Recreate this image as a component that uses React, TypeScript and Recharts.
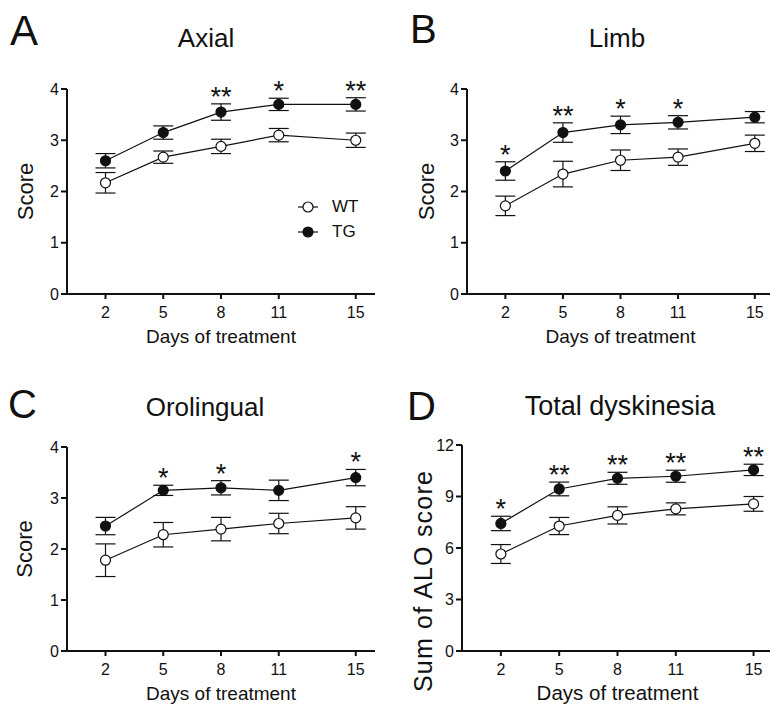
import { ErrorBar, LabelList, Legend, Line, LineChart, XAxis, YAxis } from "recharts";

// days of treatment (shared x values)
const days = [2, 5, 8, 11, 15];

// A - Axial
const axialWT = [2.17, 2.67, 2.88, 3.1, 3.0];
const axialWTErr = [0.2, 0.12, 0.14, 0.13, 0.14];
const axialTG = [2.6, 3.15, 3.55, 3.7, 3.7];
const axialTGErr = [0.14, 0.13, 0.16, 0.12, 0.13];
const axialSig = ["", "", "**", "*", "**"];

// B - Limb
const limbWT = [1.72, 2.34, 2.61, 2.67, 2.94];
const limbWTErr = [0.19, 0.25, 0.2, 0.16, 0.16];
const limbTG = [2.4, 3.15, 3.3, 3.35, 3.45];
const limbTGErr = [0.18, 0.19, 0.17, 0.13, 0.11];
const limbSig = ["*", "**", "*", "*", ""];

// C - Orolingual
const oroWT = [1.78, 2.28, 2.39, 2.5, 2.61];
const oroWTErr = [0.32, 0.24, 0.23, 0.2, 0.22];
const oroTG = [2.45, 3.15, 3.2, 3.15, 3.4];
const oroTGErr = [0.17, 0.1, 0.14, 0.2, 0.16];
const oroSig = ["", "*", "*", "", "*"];

// D - Total dyskinesia
const totalWT = [5.65, 7.28, 7.9, 8.28, 8.57];
const totalWTErr = [0.55, 0.5, 0.5, 0.35, 0.43];
const totalTG = [7.43, 9.44, 10.06, 10.18, 10.55];
const totalTGErr = [0.42, 0.4, 0.35, 0.35, 0.33];
const totalSig = ["*", "**", "**", "**", "**"];

const scoreTicks = [0, 1, 2, 3, 4];
const sumTicks = [0, 3, 6, 9, 12];

const groups = ["WT", "TG"];

const FONT = '"Liberation Sans", Arial, sans-serif';
const INK = "#111";

const legendFill: Record<string, string> = { WT: "#fff", TG: INK };

const buildRows = (
  wt: number[],
  wtErr: number[],
  tg: number[],
  tgErr: number[],
  sig: string[],
) =>
  days.map((day, i) => ({
    day,
    wt: wt[i],
    wtErr: wtErr[i],
    tg: tg[i],
    tgErr: tgErr[i],
    tgTop: tg[i] + tgErr[i],
    sig: sig[i],
  }));

const renderLegend = (props: any) => {
  const items = (props.payload || [])
    .filter((p: any) => groups.includes(p.value))
    .sort((a: any, b: any) => groups.indexOf(a.value) - groups.indexOf(b.value));
  return (
    <div style={{ fontFamily: FONT }}>
      {items.map((entry: any) => (
        <div
          key={entry.value}
          style={{ display: "flex", alignItems: "center", height: 25 }}
        >
          <svg width={24} height={24}>
            <line x1={2} x2={22} y1={12} y2={12} stroke={INK} strokeWidth={1.2} />
            <circle
              cx={12}
              cy={12}
              r={5}
              fill={legendFill[entry.value]}
              stroke={INK}
              strokeWidth={1.2}
            />
          </svg>
          <span style={{ marginLeft: 12, fontSize: 17, color: INK }}>
            {entry.value}
          </span>
        </div>
      ))}
    </div>
  );
};

type PanelProps = {
  rows: ReturnType<typeof buildRows>;
  yMax: number;
  yTicks: number[];
  yLabel: string;
  left: number;
  top: number;
  width: number;
  height: number;
  margin: { top: number; right: number; bottom: number; left: number };
  yAxisWidth: number;
  xAxisHeight: number;
  yLabelX: number;
  yLabelShift?: number;
  yLabelSize?: number;
  yLabelSpacing?: number;
  xLabelOffset: number;
  xLabelSize?: number;
  legend?: boolean;
};

const Panel = ({
  rows,
  yMax,
  yTicks,
  yLabel,
  left,
  top,
  width,
  height,
  margin,
  yAxisWidth,
  xAxisHeight,
  yLabelX,
  yLabelShift = 0,
  yLabelSize = 22,
  yLabelSpacing = 0,
  xLabelOffset,
  xLabelSize = 19,
  legend,
}: PanelProps) => {
  const yLabelContent = (props: any) => {
    const vb = props.viewBox || { y: margin.top, height: height - margin.top - xAxisHeight };
    const cy = vb.y + vb.height / 2 + yLabelShift;
    return (
      <text
        x={yLabelX}
        y={cy}
        transform={`rotate(-90, ${yLabelX}, ${cy})`}
        textAnchor="middle"
        dominantBaseline="central"
        fontSize={yLabelSize}
        letterSpacing={yLabelSpacing}
        fill={INK}
      >
        {yLabel}
      </text>
    );
  };

  return (
    <div style={{ position: "absolute", left, top }}>
      <LineChart width={width} height={height} data={rows} margin={margin}>
        <XAxis
          dataKey="day"
          type="number"
          domain={[0, 16]}
          ticks={days}
          height={xAxisHeight}
          stroke={INK}
          axisLine={{ stroke: INK, strokeWidth: 2 }}
          tickLine={{ stroke: INK, strokeWidth: 2 }}
          tickSize={5}
          tickMargin={8}
          tick={{ fontSize: 16, fill: INK }}
          label={{
            value: "Days of treatment",
            position: "insideBottom",
            offset: xLabelOffset,
            fontSize: xLabelSize,
            fill: INK,
          }}
        />
        <YAxis
          type="number"
          domain={[0, yMax]}
          ticks={yTicks}
          width={yAxisWidth}
          stroke={INK}
          axisLine={{ stroke: INK, strokeWidth: 2 }}
          tickLine={{ stroke: INK, strokeWidth: 2 }}
          tickSize={6}
          tickMargin={2}
          tick={{ fontSize: 16, fill: INK }}
          label={yLabelContent}
        />
        {legend && (
          <Legend
            layout="vertical"
            align="center"
            verticalAlign="middle"
            wrapperStyle={{ left: 296, top: 194.5, width: 90 }}
            content={renderLegend}
          />
        )}
        <Line
          name="WT"
          dataKey="wt"
          stroke={INK}
          strokeWidth={1.2}
          dot={{ r: 5, fill: "#fff", stroke: INK, strokeWidth: 1.2 }}
          activeDot={false}
          isAnimationActive={false}
        >
          <ErrorBar dataKey="wtErr" width={10} stroke={INK} strokeWidth={1.2} direction="y" />
        </Line>
        <Line
          name="TG"
          dataKey="tg"
          stroke={INK}
          strokeWidth={1.2}
          dot={{ r: 5, fill: INK, stroke: INK, strokeWidth: 1.2 }}
          activeDot={false}
          isAnimationActive={false}
        >
          <ErrorBar dataKey="tgErr" width={10} stroke={INK} strokeWidth={1.2} direction="y" />
        </Line>
        <Line
          name="sig"
          dataKey="tgTop"
          stroke="none"
          dot={false}
          activeDot={false}
          legendType="none"
          isAnimationActive={false}
        >
          <LabelList
            dataKey="sig"
            position="top"
            offset={-2}
            style={{ fontSize: 27, fill: INK }}
          />
        </Line>
      </LineChart>
    </div>
  );
};

const App = () => {
  return (
    <div
      style={{
        position: "absolute",
        left: 0,
        top: 0,
        width: 770,
        height: 705,
        overflow: "hidden",
        background: "#fff",
        fontFamily: FONT,
      }}
    >
      <Panel
        rows={buildRows(axialWT, axialWTErr, axialTG, axialTGErr, axialSig)}
        yMax={4}
        yTicks={scoreTicks}
        yLabel="Score"
        left={0}
        top={0}
        width={385}
        height={352}
        margin={{ top: 89, right: 10, bottom: 0, left: 0 }}
        yAxisWidth={67}
        xAxisHeight={58}
        yLabelX={25}
        xLabelOffset={9}
        legend
      />
      <Panel
        rows={buildRows(limbWT, limbWTErr, limbTG, limbTGErr, limbSig)}
        yMax={4}
        yTicks={scoreTicks}
        yLabel="Score"
        left={385}
        top={0}
        width={390}
        height={352}
        margin={{ top: 89, right: 1, bottom: 0, left: 0 }}
        yAxisWidth={82}
        xAxisHeight={58}
        yLabelX={41}
        xLabelOffset={9}
      />
      <Panel
        rows={buildRows(oroWT, oroWTErr, oroTG, oroTGErr, oroSig)}
        yMax={4}
        yTicks={scoreTicks}
        yLabel="Score"
        left={0}
        top={352}
        width={385}
        height={353}
        margin={{ top: 95, right: 10, bottom: 0, left: 0 }}
        yAxisWidth={67}
        xAxisHeight={54}
        yLabelX={24}
        xLabelOffset={5}
      />
      <Panel
        rows={buildRows(totalWT, totalWTErr, totalTG, totalTGErr, totalSig)}
        yMax={12}
        yTicks={sumTicks}
        yLabel="Sum of ALO score"
        left={385}
        top={352}
        width={390}
        height={353}
        margin={{ top: 93, right: 2, bottom: 0, left: 0 }}
        yAxisWidth={77}
        xAxisHeight={54}
        yLabelX={38}
        yLabelShift={33}
        yLabelSize={25}
        yLabelSpacing={1.2}
        xLabelOffset={5}
        xLabelSize={20.5}
      />
      <svg
        width={770}
        height={705}
        style={{ position: "absolute", left: 0, top: 0, pointerEvents: "none" }}
      >
        <g fill={INK}>
          <text x={10} y={45} fontSize={42}>A</text>
          <text x={410} y={43} fontSize={40}>B</text>
          <text x={8} y={418} fontSize={40}>C</text>
          <text x={407} y={420} fontSize={40}>D</text>
          <text x={206} y={47} fontSize={26} textAnchor="middle">Axial</text>
          <text x={617} y={47} fontSize={26} textAnchor="middle">Limb</text>
          <text x={205} y={416} fontSize={26} textAnchor="middle">Orolingual</text>
          <text x={620} y={415} fontSize={27} textAnchor="middle">Total dyskinesia</text>
        </g>
      </svg>
    </div>
  );
};

export default App;
